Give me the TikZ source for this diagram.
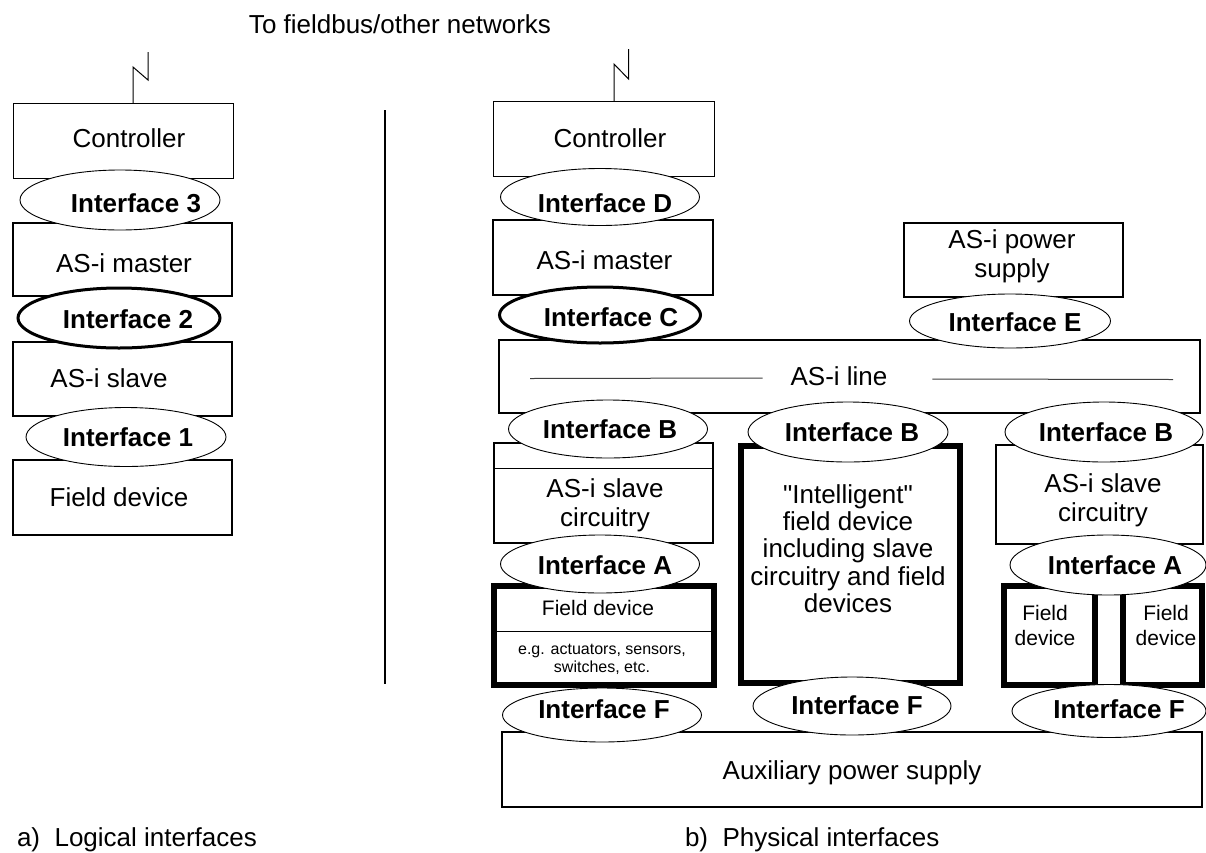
\documentclass[tikz,border=0pt]{standalone}
\usepackage{fontspec}
\setmainfont{Liberation Sans}[Ligatures=TeXOff]
\usetikzlibrary{shapes.geometric,calc,fit}
\begin{document}
\begin{tikzpicture}[x=1pt,y=-1pt,
  every node/.style={inner sep=0pt,outer sep=0pt},
  box/.style={draw=black, fill=white, rectangle, line width=1.5pt},
  thinbox/.style={box, line width=1pt},
  heavybox/.style={box, line width=2pt},
  thickbox/.style={box, line width=5.5pt},
  iface/.style={draw=black, fill=white, ellipse, line width=0.9pt},
  boldiface/.style={iface, line width=3pt},
  txt/.style={font=\fontsize{26}{29}\selectfont, text height=18.6pt, text depth=0pt},
  mtxt/.style={font=\fontsize{26}{29.5}\selectfont, align=center, anchor=north},
  itxt/.style={font=\fontsize{26}{29}\selectfont\bfseries, text height=18.6pt, text depth=0pt},
  ftxt/.style={font=\fontsize{21}{25}\selectfont, align=center, anchor=north},
  stxt/.style={font=\fontsize{16}{18}\selectfont, align=center, anchor=north},
  thinline/.style={draw=black, line width=1pt},
]
\useasboundingbox (0,0) rectangle (1206,852);

% ---------- top label ----------
\node[font=\fontsize{26}{29}\selectfont, anchor=base] (toptxt) at (400,33) {To fieldbus/other networks};

% ---------- a) logical interfaces ----------
\node[thinbox, fit={(13,103) (233,178)}] (ctrlL) {};
\node[heavybox, fit={(13,223) (232,296)}] (masterL) {};
\node[heavybox, fit={(13,342) (232,416)}] (slaveL) {};
\node[heavybox, fit={(13,460) (232,535)}] (fieldL) {};
\draw[thinline] ($(ctrlL.north)+(10,0)$) coordinate (zL0) -- ++(0,-36) -- ++(15,13) -- ++(0,-28) coordinate (zL1);

\node[iface, minimum width=200pt, minimum height=60pt] (i3) at (120,200) {};
\node[boldiface, minimum width=202pt, minimum height=60pt] (i2) at (119,318) {};
\node[iface, minimum width=200pt, minimum height=59pt] (i1) at (126,437) {};

\node[txt] (tctrlL) at (129,138) {Controller};
\node[txt] (tmasterL) at (124,263) {AS-i master};
\node[txt] (tslaveL) at (109,378) {AS-i slave};
\node[txt] (tfieldL) at (119,497) {Field device};
\node[itxt] (ti3) at (136,203) {Interface 3};
\node[itxt] (ti2) at (128,319) {Interface 2};
\node[itxt] (ti1) at (128,437) {Interface 1};

% divider
\draw[draw=black, line width=1.2pt] (385,110) coordinate (divtop) -- (385,684) coordinate (divbot);

% ---------- b) physical interfaces ----------
\node[thinbox, fit={(493,101) (714,176)}] (ctrlR) {};
\draw[thinline] ($(ctrlR.north)+(10.5,0)$) coordinate (zR0) -- ++(0,-37) -- ++(14.5,15) -- ++(0,-30) coordinate (zR1);
\node[heavybox, fit={(493,220) (713,295)}] (masterR) {};
\node[box, fit={(499,340) (1200,413)}] (line) {};
\node[box, fit={(904,223) (1123,297)}] (psu) {};

\node[box, fit={(494,443) (713,543)}] (slave1) {};
\draw[thinline] ($(slave1.north west)+(0,25)$) -- ($(slave1.north east)+(0,25)$);
\node[thickbox, line width=6pt, fit={(741,446) (960,683)}] (intel) {};
\node[box, fit={(996,445) (1203,544)}] (slave2) {};

\node[thickbox, fit={(494,586) (714,685)}] (field1) {};
\draw[thinline] ($(field1.north west)+(0,45)$) -- ($(field1.north east)+(0,45)$);
\node[thickbox, fit={(1004,586) (1095,685)}] (field2a) {};
\node[thickbox, fit={(1123,586) (1202,685)}] (field2b) {};

\node[box, fit={(502,732) (1202,807)}] (aux) {};

% ellipses
\node[iface, minimum width=199pt, minimum height=57pt] (iD) at (600,197) {};
\node[boldiface, minimum width=201pt, minimum height=56pt] (iC) at (600,315) {};
\node[iface, minimum width=201pt, minimum height=54pt] (iE) at (1010,321) {};
\node[iface, minimum width=199pt, minimum height=58pt] (iB1) at (608,429) {};
\node[iface, minimum width=200pt, minimum height=60pt] (iB2) at (848,432) {};
\node[iface, minimum width=198pt, minimum height=60pt] (iB3) at (1104,432) {};
\node[iface, minimum width=199pt, minimum height=58pt] (iA1) at (600,564) {};
\node[iface, minimum width=196pt, minimum height=60pt] (iA2) at (1108,565) {};
\node[iface, minimum width=199pt, minimum height=54pt] (iF1) at (602,715) {};
\node[iface, minimum width=198pt, minimum height=58pt] (iF2) at (852,706) {};
\node[iface, minimum width=194pt, minimum height=53pt] (iF3) at (1109,711) {};

% texts
\node[txt] (tctrlR) at (610,138) {Controller};
\node[txt] (tmasterR) at (604.5,260) {AS-i master};
\node[txt] (tline) at (839,376) {AS-i line};
\draw[draw=black!75, line width=1pt] ($(line.west)+(31,2)$) -- ($(tline.west)+(-28,2)$);
\draw[draw=black!75, line width=1pt] ($(tline.east)+(45,3)$) -- ($(line.east)+(-27,3)$);
\node[mtxt] (tpsu) at (1012,229.5) {AS-i power\\supply};
\node[mtxt] (tslave1) at (605,478.5) {AS-i slave\\circuitry};
\node[mtxt, font=\fontsize{26}{27.3}\selectfont] (tintel) at (848,484.5) {"Intelligent"\\field device\\including slave\\circuitry and field\\devices};
\node[mtxt] (tslave2) at (1103,473.5) {AS-i slave\\circuitry};
\node[ftxt] (tfield1) at (598,600.5) {Field device};
\node[stxt] (tfield1s) at (602,644) {e.g. actuators, sensors,\\switches, etc.};
\node[ftxt] (tfield2a) at (1045,605.5) {Field\\device};
\node[ftxt] (tfield2b) at (1166,605.5) {Field\\device};
\node[txt] (taux) at (852,770) {Auxiliary power supply};

\node[itxt] (tiD) at (605,203) {Interface D};
\node[itxt] (tiC) at (611,317) {Interface C};
\node[itxt] (tiE) at (1015,322) {Interface E};
\node[itxt] (tiB1) at (610,429) {Interface B};
\node[itxt] (tiB2) at (852,432) {Interface B};
\node[itxt] (tiB3) at (1106,432) {Interface B};
\node[itxt] (tiA1) at (605,565) {Interface A};
\node[itxt] (tiA2) at (1115,565) {Interface A};
\node[itxt] (tiF1) at (604,709) {Interface F};
\node[itxt] (tiF2) at (857,705) {Interface F};
\node[itxt] (tiF3) at (1119,709) {Interface F};

% captions
\node[font=\fontsize{26}{29}\selectfont, anchor=base west] (capa) at (17,846) {a)~~Logical interfaces};
\node[font=\fontsize{26}{29}\selectfont, anchor=base west] (capb) at (685,846) {b)~~Physical interfaces};
\end{tikzpicture}
\end{document}
